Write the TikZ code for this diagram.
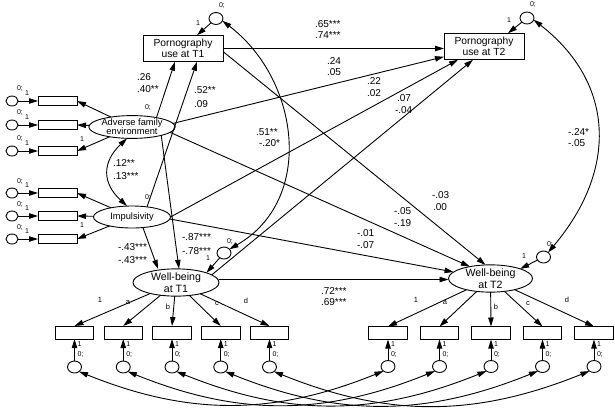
\documentclass[tikz,border=0pt]{standalone}
\usepackage{fontspec}
\setmainfont{Liberation Sans}
\usetikzlibrary{arrows.meta,shapes.geometric}
\begin{document}
\begin{tikzpicture}[x=1pt,y=1pt,
  every node/.style={inner sep=0pt,outer sep=0pt},
  ln/.style={line width=0.9pt},
  arr/.style={ln,-{Triangle[length=9pt,width=5.4pt]}},
  darr/.style={ln,{Triangle[length=9pt,width=5.4pt]}-{Triangle[length=9pt,width=5.4pt]}},
  obs/.style={draw,line width=0.9pt,rectangle,minimum width=80pt,minimum height=26.5pt,align=center,font=\fontsize{10.3}{10.5}\selectfont},
  ind/.style={draw,line width=0.9pt,rectangle,minimum width=39pt,minimum height=9pt},
  bind/.style={draw,line width=0.9pt,rectangle,minimum width=38.5pt,minimum height=13pt},
  lat/.style={draw,line width=0.9pt,ellipse,align=center},
  err/.style={draw,line width=0.9pt,ellipse,minimum width=14pt,minimum height=12pt},
  lerr/.style={draw,line width=0.9pt,ellipse,minimum width=12pt,minimum height=10pt},
  cf/.style={anchor=base west,font=\fontsize{10}{10}\selectfont},
  sm/.style={font=\fontsize{7}{7}\selectfont},
  ld/.style={font=\fontsize{7.5}{7.5}\selectfont}
]
\useasboundingbox (0,0) rectangle (615,-407);

% main nodes
\node[obs] (pu1) at (183,-48.5) {Pornography\\use at T1};
\node[obs] (pu2) at (484,-46.5) {Pornography\\use at T2};
\node[err] (epu1) at (216,-18.5) {};
\node[err] (epu2) at (527,-18) {};
\node[lat,minimum width=79pt,minimum height=20pt,font=\fontsize{9.3}{9.3}\selectfont] (afe) at (132,-127) {Adverse family\\environment};
\node[lat,minimum width=77pt,minimum height=22pt,font=\fontsize{9.3}{9.3}\selectfont] (imp) at (132,-217) {Impulsivity};
\node[lat,minimum width=86pt,minimum height=27pt,font=\fontsize{10.6}{11.5}\selectfont] (wb1) at (176,-282.5) {Well-being\\at T1};
\node[lat,minimum width=84pt,minimum height=27pt,font=\fontsize{10.6}{11.5}\selectfont] (wb2) at (490.5,-278.5) {Well-being\\at T2};
\node[err] (ewb1) at (224,-253) {};
\node[err] (ewb2) at (543.5,-257) {};

% small labels of errors / means
\node[sm] at (222,-6) {0;};
\node[sm] at (198,-23) {1};
\node[sm] at (533,-5) {0;};
\node[sm] at (509,-20) {1};
\node[sm] at (230,-241) {0;};
\node[sm] at (208,-258) {1};
\node[sm] at (550,-244) {0;};
\node[sm] at (524,-256) {1};
\node[sm] at (148,-108) {0;};
\node[sm] at (148,-198) {0;};

% error arrows
\draw[arr] (epu1) -- ([xshift=14pt]pu1.north);
\draw[arr] (epu2) -- ([xshift=24pt]pu2.north);
\draw[arr] (ewb1) -- (wb1.north east);
\draw[arr] (ewb2) -- (wb2.north east);

% left indicators
\foreach \i/\y in {1/101,2/125,3/151,4/193,5/216,6/239}{
  \node[ind] (x\i) at (57.5,-\y) {};
  \node[lerr] (lx\i) at (12,-\y) {};
  \draw[arr] (lx\i) -- (x\i);
  \node[sm] at (20,-\y+12) {0;};
  \node[sm] at (27,-\y+8) {1};
}
\foreach \i in {1,2,3}{\draw[arr] (afe) -- (x\i.east);}
\foreach \i in {4,5,6}{\draw[arr] (imp) -- (x\i.east);}
\node[sm] at (82,-139) {1};
\node[sm] at (82,-225) {1};

% bottom indicators T1
\foreach \i/\x in {1/74.5,2/123.25,3/172,4/220.75,5/269.5}{
  \node[bind] (y\i) at (\x,-332.5) {};
  \node[err] (ey\i) at (\x,-367) {};
  \draw[arr] (ey\i) -- (y\i);
  \draw[arr] (wb1) -- (y\i.north);
  \node[sm] at (\x+5,-344) {1};
  \node[sm] at (\x+6,-354) {0;};
}
% bottom indicators T2
\foreach \i/\x in {1/388,2/439.5,3/491,4/542.5,5/594}{
  \node[bind] (z\i) at (\x,-333) {};
  \node[err] (ez\i) at (\x,-366.5) {};
  \draw[arr] (ez\i) -- (z\i);
  \draw[arr] (wb2) -- (z\i.north);
  \node[sm] at (\x+5,-344) {1};
  \node[sm] at (\x+6,-354) {0;};
}
\foreach \i in {1,...,5}{
  \draw[darr] (ey\i.-45) to[out=-22,in=202] (ez\i.-135);
}
% loading labels
\node[ld] at (100,-300) {1};
\node[ld] at (128,-303) {a};
\node[ld] at (168,-307) {b};
\node[ld] at (217,-304) {c};
\node[ld] at (246,-301) {d};
\node[ld] at (416,-300) {1};
\node[ld] at (445,-303) {a};
\node[ld] at (496,-307) {b};
\node[ld] at (528,-304) {c};
\node[ld] at (567,-300) {d};

% structural paths
\draw[arr] (pu1.east) -- (pu1.east -| pu2.west);
\draw[arr] (afe.21) -- ([xshift=-8pt]pu1.south);
\draw[arr] (imp.34) -- ([xshift=14pt]pu1.south);
\draw[arr] (afe.5) -- ([yshift=3pt]pu2.south west);
\draw[arr] (imp.east) -- ([xshift=-26pt]pu2.south);
\draw[arr] (wb1.12) -- ([xshift=-11pt]pu2.south);
\draw[arr] ([yshift=-3pt]pu1.east) -- ([xshift=-5pt]wb2.north);
\draw[arr] (afe.-8) -- (wb2.150);
\draw[arr] (imp.-3) -- (wb2.170);
\draw[arr] ([yshift=3pt]wb1.east) -- ([yshift=3pt]wb1.east -| wb2.west);
\draw[arr] (afe.-16) -- ([xshift=3pt]wb1.north);
\draw[arr] (imp.-44) -- ([xshift=-18pt]wb1.north);

% covariances
\draw[darr] ([xshift=-5pt]afe.south) .. controls (102,-162) and (102,-183) .. ([xshift=-5pt]imp.north);
\draw[darr] (epu1.-20) .. controls (300,-80) and (315,-200) .. (ewb1.35);
\draw[darr] (epu2.-15) .. controls (616,-84) and (617,-171) .. (ewb2.45);

% coefficients
\node[cf] at (315,-27) {.65***};
\node[cf] at (315,-38) {.74***};
\node[cf] at (137,-80) {.26};
\node[cf] at (137,-92) {.40**};
\node[cf] at (194,-93) {.52**};
\node[cf] at (194,-107) {.09};
\node[cf] at (327,-64) {.24};
\node[cf] at (327,-75) {.05};
\node[cf] at (367,-84) {.22};
\node[cf] at (367,-96) {.02};
\node[cf] at (397,-101) {.07};
\node[cf] at (395,-113) {-.04};
\node[cf] at (432,-198) {-.03};
\node[cf] at (433,-210) {.00};
\node[cf] at (394,-214) {-.05};
\node[cf] at (394,-226) {-.19};
\node[cf] at (357,-236) {-.01};
\node[cf] at (357,-248) {-.07};
\node[cf] at (321,-294) {.72***};
\node[cf] at (321,-305) {.69***};
\node[cf] at (182,-240) {-.87***};
\node[cf] at (182,-254) {-.78***};
\node[cf] at (118,-250) {-.43***};
\node[cf] at (118,-263) {-.43***};
\node[cf] at (113,-166) {.12**};
\node[cf] at (113,-179) {.13***};
\node[cf] at (256,-135) {.51**};
\node[cf] at (259,-146) {-.20*};
\node[cf] at (568,-135) {-.24*};
\node[cf] at (568,-146) {-.05};
\end{tikzpicture}
\end{document}
